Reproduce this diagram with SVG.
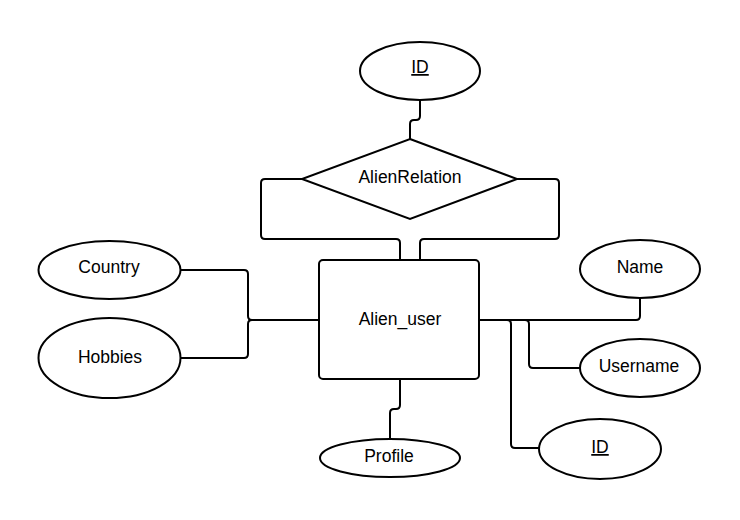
<svg xmlns="http://www.w3.org/2000/svg" width="740" height="520" viewBox="0 0 740 520">
<style>
.shape{fill:#fff;stroke:#000;stroke-width:2}
.conn{fill:none;stroke:#000;stroke-width:2}
text{font-family:"Liberation Sans",Arial,sans-serif;font-size:17.5px;fill:#000;text-anchor:middle}
.key{text-decoration:underline}
</style>
<rect width="740" height="520" fill="#fff"/>
<g id="connectors">
<path class="conn" d="M420,100 V116 Q420,120 416,120 H414 Q410,120 410,124 V139"/>
<path class="conn" d="M302,179 H265 Q261,179 261,183 V235 Q261,239 265,239 H396 Q400,239 400,243 V260"/>
<path class="conn" d="M517,179 H555 Q559,179 559,183 V235 Q559,239 555,239 H424 Q420,239 420,243 V260"/>
<path class="conn" d="M181,270 H244 Q248,270 248,274 V316 Q248,320 252,320 H319"/>
<path class="conn" d="M181,358 H244 Q248,358 248,354 V324 Q248,320 252,320 H319"/>
<path class="conn" d="M479,320 H636 Q640,320 640,316 V298"/>
<path class="conn" d="M479,320 H525 Q529,320 529,324 V364 Q529,368 533,368 H580"/>
<path class="conn" d="M479,320 H507 Q511,320 511,324 V444 Q511,448 515,448 H539"/>
<path class="conn" d="M400,379 V405 Q400,409 396,409 H394 Q390,409 390,413 V439"/>
</g>
<g id="id_top">
<ellipse class="shape" cx="420" cy="71" rx="60" ry="29"/>
<text class="key" x="420" y="73">ID</text>
</g>
<g id="alien_relation">
<polygon class="shape" points="410,139 517,179 410,219 302,179"/>
<text x="410" y="183">AlienRelation</text>
</g>
<g id="alien_user">
<rect class="shape" x="319" y="260" width="160" height="119" rx="4"/>
<text x="400" y="325">Alien_user</text>
</g>
<g id="country">
<ellipse class="shape" cx="109.5" cy="270" rx="71" ry="29"/>
<text x="109" y="273">Country</text>
</g>
<g id="hobbies">
<ellipse class="shape" cx="109.5" cy="358" rx="71" ry="40"/>
<text x="110" y="363">Hobbies</text>
</g>
<g id="name">
<ellipse class="shape" cx="640" cy="269" rx="60" ry="29"/>
<text x="640" y="273">Name</text>
</g>
<g id="username">
<ellipse class="shape" cx="640" cy="368" rx="60" ry="29"/>
<text x="639" y="372">Username</text>
</g>
<g id="id_user">
<ellipse class="shape" cx="600" cy="449" rx="61" ry="30"/>
<text class="key" x="600" y="453">ID</text>
</g>
<g id="profile">
<ellipse class="shape" cx="390" cy="458" rx="70" ry="19"/>
<text x="389" y="462">Profile</text>
</g>
</svg>
